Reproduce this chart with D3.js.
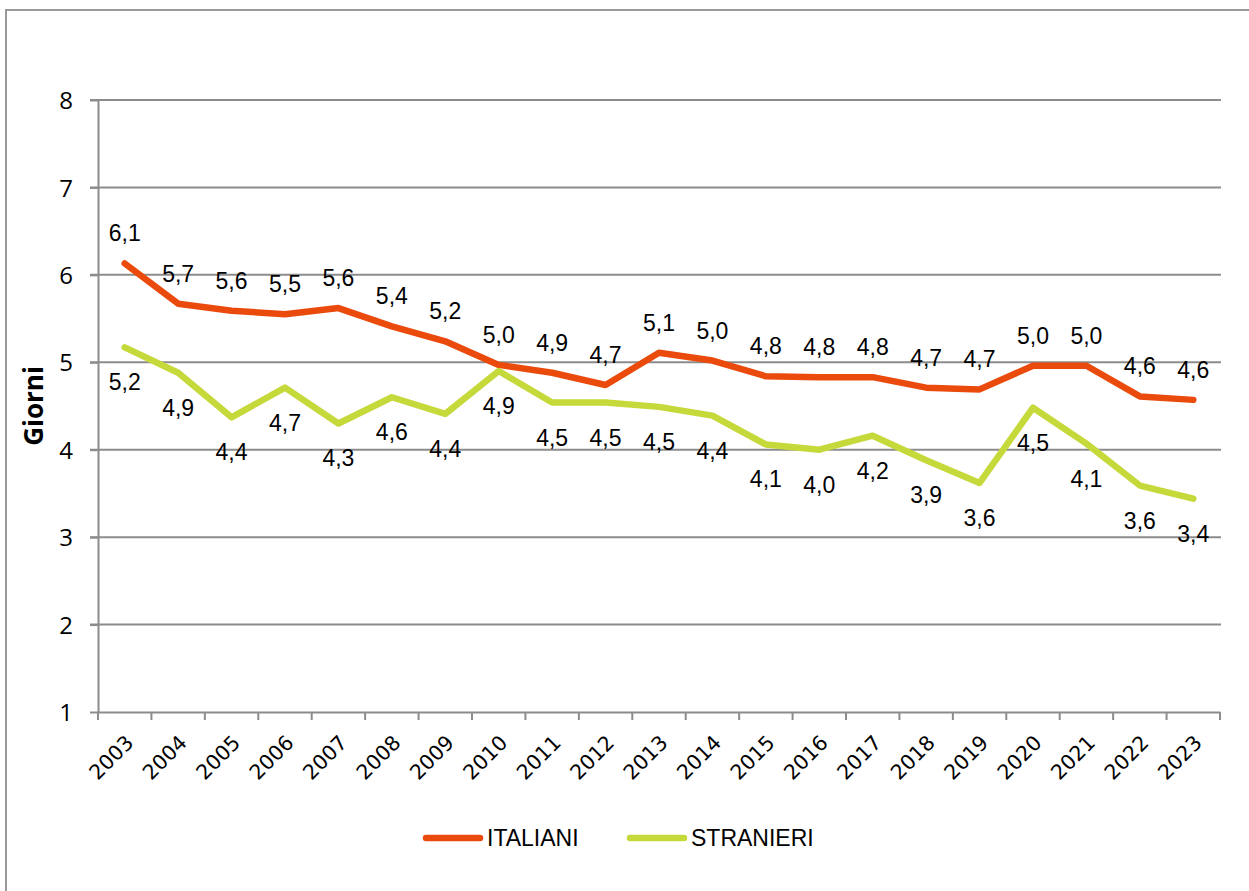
<!DOCTYPE html>
<html><head><meta charset="utf-8">
<script src="https://cdn.jsdelivr.net/npm/d3@7"></script>
<style>html,body{margin:0;padding:0;background:#fff;}svg{display:block;}</style>
</head><body>
<svg id="chart" width="1249" height="891"></svg>
<script>
const years = ["2003","2004","2005","2006","2007","2008","2009","2010","2011","2012","2013","2014","2015","2016","2017","2018","2019","2020","2021","2022","2023"];
const italiani = [6.13,5.67,5.59,5.55,5.62,5.41,5.24,4.97,4.88,4.74,5.11,5.02,4.84,4.83,4.83,4.71,4.69,4.96,4.96,4.61,4.57];
const stranieri = [5.17,4.88,4.37,4.71,4.30,4.60,4.41,4.90,4.54,4.54,4.49,4.39,4.06,4.00,4.16,3.88,3.62,4.48,4.07,3.59,3.44];
const yTicks = [1,2,3,4,5,6,7,8];
const seriesNames = ["ITALIANI","STRANIERI"];
const colors = ["#EA4A0C","#C5D93B"];

const svg = d3.select("#chart");
svg.append("rect").attr("x",6).attr("y",10).attr("width",1300).attr("height",950)
  .attr("fill","#fff").attr("stroke","#9a9a9a").attr("stroke-width",2);

const x = d3.scaleBand().domain(years).range([98,1220]);
const y = d3.scaleLinear().domain([1,8]).range([712,100]);
const cx = d => x(d) + x.bandwidth()/2;

// gridlines
svg.append("g").selectAll("line").data(yTicks.filter(t=>t>1)).join("line")
  .attr("x1",90).attr("x2",1221).attr("y1",d=>y(d)).attr("y2",d=>y(d))
  .attr("stroke","#8c8c8c").attr("stroke-width",2);
// y axis
const yAxis = svg.append("g").attr("transform","translate(98,0)")
  .call(d3.axisLeft(y).tickValues(yTicks).tickSize(8).tickSizeOuter(0).tickFormat(d3.format("d")));
yAxis.select(".domain").attr("stroke","#8c8c8c").attr("stroke-width",2);
yAxis.selectAll(".tick line").attr("stroke","#8c8c8c").attr("stroke-width",2);
yAxis.selectAll(".tick text").attr("x",-25).attr("dy","0.36em").attr("fill","#000")
  .style("font-family","'Open Sans'").style("font-size","24px");
// x axis
const xAxis = svg.append("g").attr("transform","translate(0,712)")
  .call(d3.axisBottom(x).tickSize(0).tickSizeOuter(0));
xAxis.select(".domain").attr("stroke","#8c8c8c").attr("stroke-width",2);
xAxis.selectAll(".tick text").remove();
svg.append("g").selectAll("line").data(d3.range(years.length+1)).join("line")
  .attr("x1",i=>98+i*x.step()).attr("x2",i=>98+i*x.step())
  .attr("y1",712).attr("y2",720).attr("stroke","#8c8c8c").attr("stroke-width",2);
svg.append("g").selectAll("text").data(years).join("text")
  .attr("transform",d=>`translate(${cx(d)+10},744) rotate(-45)`)
  .attr("text-anchor","end").attr("fill","#000")
  .style("font-family","'DejaVu Sans'").style("font-size","20.5px").text(d=>d);

// y title
svg.append("text").attr("transform","translate(43,406) rotate(-90)")
  .attr("text-anchor","middle").attr("font-weight","bold")
  .style("font-family","'Open Sans'").style("font-size","26px").text("Giorni");

const line = d3.line().x((d,i)=>cx(years[i])).y(d=>y(d));
[italiani,stranieri].forEach((s,k)=>{
  svg.append("path").datum(s).attr("d",line).attr("fill","none")
    .attr("stroke",colors[k]).attr("stroke-width",6.5)
    .attr("stroke-linecap","round").attr("stroke-linejoin","round");
});
const fmt = v => d3.format(".1f")(v).replace(".",",");
svg.append("g").selectAll("text").data(italiani).join("text")
  .attr("x",(d,i)=>cx(years[i])).attr("y",d=>y(d)-22)
  .attr("text-anchor","middle").attr("fill","#000")
  .style("font-family","'Liberation Sans'").style("font-size","23px").text(fmt);
svg.append("g").selectAll("text").data(stranieri).join("text")
  .attr("x",(d,i)=>cx(years[i])).attr("y",d=>y(d)+43)
  .attr("text-anchor","middle").attr("fill","#000")
  .style("font-family","'Liberation Sans'").style("font-size","23px").text(fmt);

// legend
const legX = [426,630];
seriesNames.forEach((n,k)=>{
  svg.append("line").attr("x1",legX[k]).attr("x2",legX[k]+54).attr("y1",838).attr("y2",838)
    .attr("stroke",colors[k]).attr("stroke-width",6.5).attr("stroke-linecap","round");
  svg.append("text").attr("x",legX[k]+61).attr("y",846).attr("fill","#000")
    .style("font-family","'Liberation Sans'").style("font-size","23px").text(n);
});
</script>
</body></html>
